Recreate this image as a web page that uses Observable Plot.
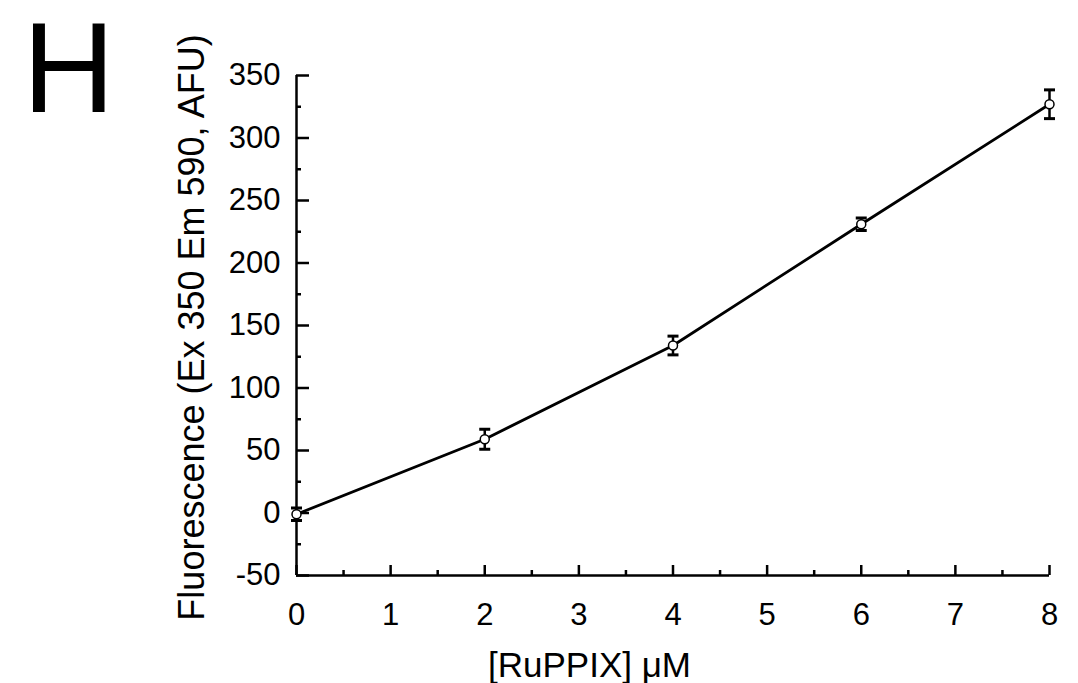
<!DOCTYPE html>
<html>
<head>
<meta charset="utf-8">
<script src="https://cdn.jsdelivr.net/npm/d3@7"></script>
<script src="https://cdn.jsdelivr.net/npm/@observablehq/plot@0.6"></script>
<style>
  html, body { margin: 0; padding: 0; background: #fff; }
  #chart { width: 1078px; height: 683px; }
</style>
</head>
<body>
<div id="chart"></div>
<script>
// Data
const concentration = [0, 2, 4, 6, 8];          // [RuPPIX] µM
const fluorescence  = [-1, 59, 134, 231, 327];  // AFU
const errors        = [5, 8, 7.5, 5, 11.5];

const xTicks = [0, 1, 2, 3, 4, 5, 6, 7, 8];
const xMinorTicks = [0.5, 1.5, 2.5, 3.5, 4.5, 5.5, 6.5, 7.5];
const yTicks = [-50, 0, 50, 100, 150, 200, 250, 300, 350];
const yMinorTicks = [-25, 25, 75, 125, 175, 225, 275, 325];

const panelLetter = "H";
const xLabel = "[RuPPIX] \u03bcM";
const yLabel = "Fluorescence (Ex 350 Em 590, AFU)";

const data = concentration.map((x, i) => ({
  x, y: fluorescence[i], lo: fluorescence[i] - errors[i], hi: fluorescence[i] + errors[i]
}));

const capSymbol = {
  draw(context, size) {
    const w = Math.sqrt(size / Math.PI);
    context.moveTo(-w, 0);
    context.lineTo(w, 0);
  }
};

const font = "'Liberation Sans', Arial, Helvetica, sans-serif";
const SW = 2.5;

const chart = Plot.plot({
  width: 1078,
  height: 683,
  marginLeft: 296,
  marginRight: 29,
  marginTop: 75,
  marginBottom: 108,
  style: { fontFamily: font, color: "#000", background: "#fff", overflow: "visible" },
  x: { domain: [0, 8] },
  y: { domain: [-50, 350] },
  marks: [
    // axis labels (text)
    Plot.axisX({ ticks: xTicks, tickSize: 0, tickPadding: 27, fontSize: 31, label: null, tickFormat: d => String(d) }),
    Plot.axisY({ ticks: yTicks, tickSize: 0, tickPadding: 16, fontSize: 31, label: null, tickFormat: d => String(d) }),
    // inward ticks
    Plot.axisX({ ticks: xTicks, tickSize: -10, text: null, label: null, strokeWidth: SW }),
    Plot.axisX({ ticks: xMinorTicks, tickSize: -5, text: null, label: null, strokeWidth: SW }),
    Plot.axisY({ ticks: yTicks, tickSize: -13, text: null, label: null, strokeWidth: SW }),
    Plot.axisY({ ticks: yMinorTicks, tickSize: -5, text: null, label: null, strokeWidth: SW }),
    // axis lines
    Plot.ruleX([0], { strokeWidth: SW }),
    Plot.ruleY([-50], { strokeWidth: SW }),
    // series
    Plot.line(data, { x: "x", y: "y", strokeWidth: 2.8, stroke: "#000" }),
    Plot.ruleX(data, { x: "x", y1: "lo", y2: "hi", strokeWidth: SW, stroke: "#000" }),
    Plot.dot(data, { x: "x", y: "lo", symbol: capSymbol, r: 5.5, stroke: "#000", strokeWidth: 3, fill: "none" }),
    Plot.dot(data, { x: "x", y: "hi", symbol: capSymbol, r: 5.5, stroke: "#000", strokeWidth: 3, fill: "none" }),
    Plot.dot(data, { x: "x", y: "y", r: 4.5, fill: "#fff", stroke: "#000", strokeWidth: 1.5 }),
    // titles
    Plot.text([xLabel], { frameAnchor: "bottom", dx: 589 - 672.5, dy: 77, textAnchor: "middle", lineAnchor: "top", fontSize: 35, fill: "#000" }),
    Plot.text([yLabel], { frameAnchor: "left", dx: -118, dy: 2, rotate: -90, textAnchor: "middle", lineAnchor: "top", fontSize: 36, fill: "#000" }),
    Plot.text([panelLetter], { frameAnchor: "top-left", dx: -274, dy: -54, textAnchor: "start", lineAnchor: "top", fontSize: 128, fill: "#000" })
  ]
});

document.getElementById("chart").appendChild(chart);
</script>
</body>
</html>
